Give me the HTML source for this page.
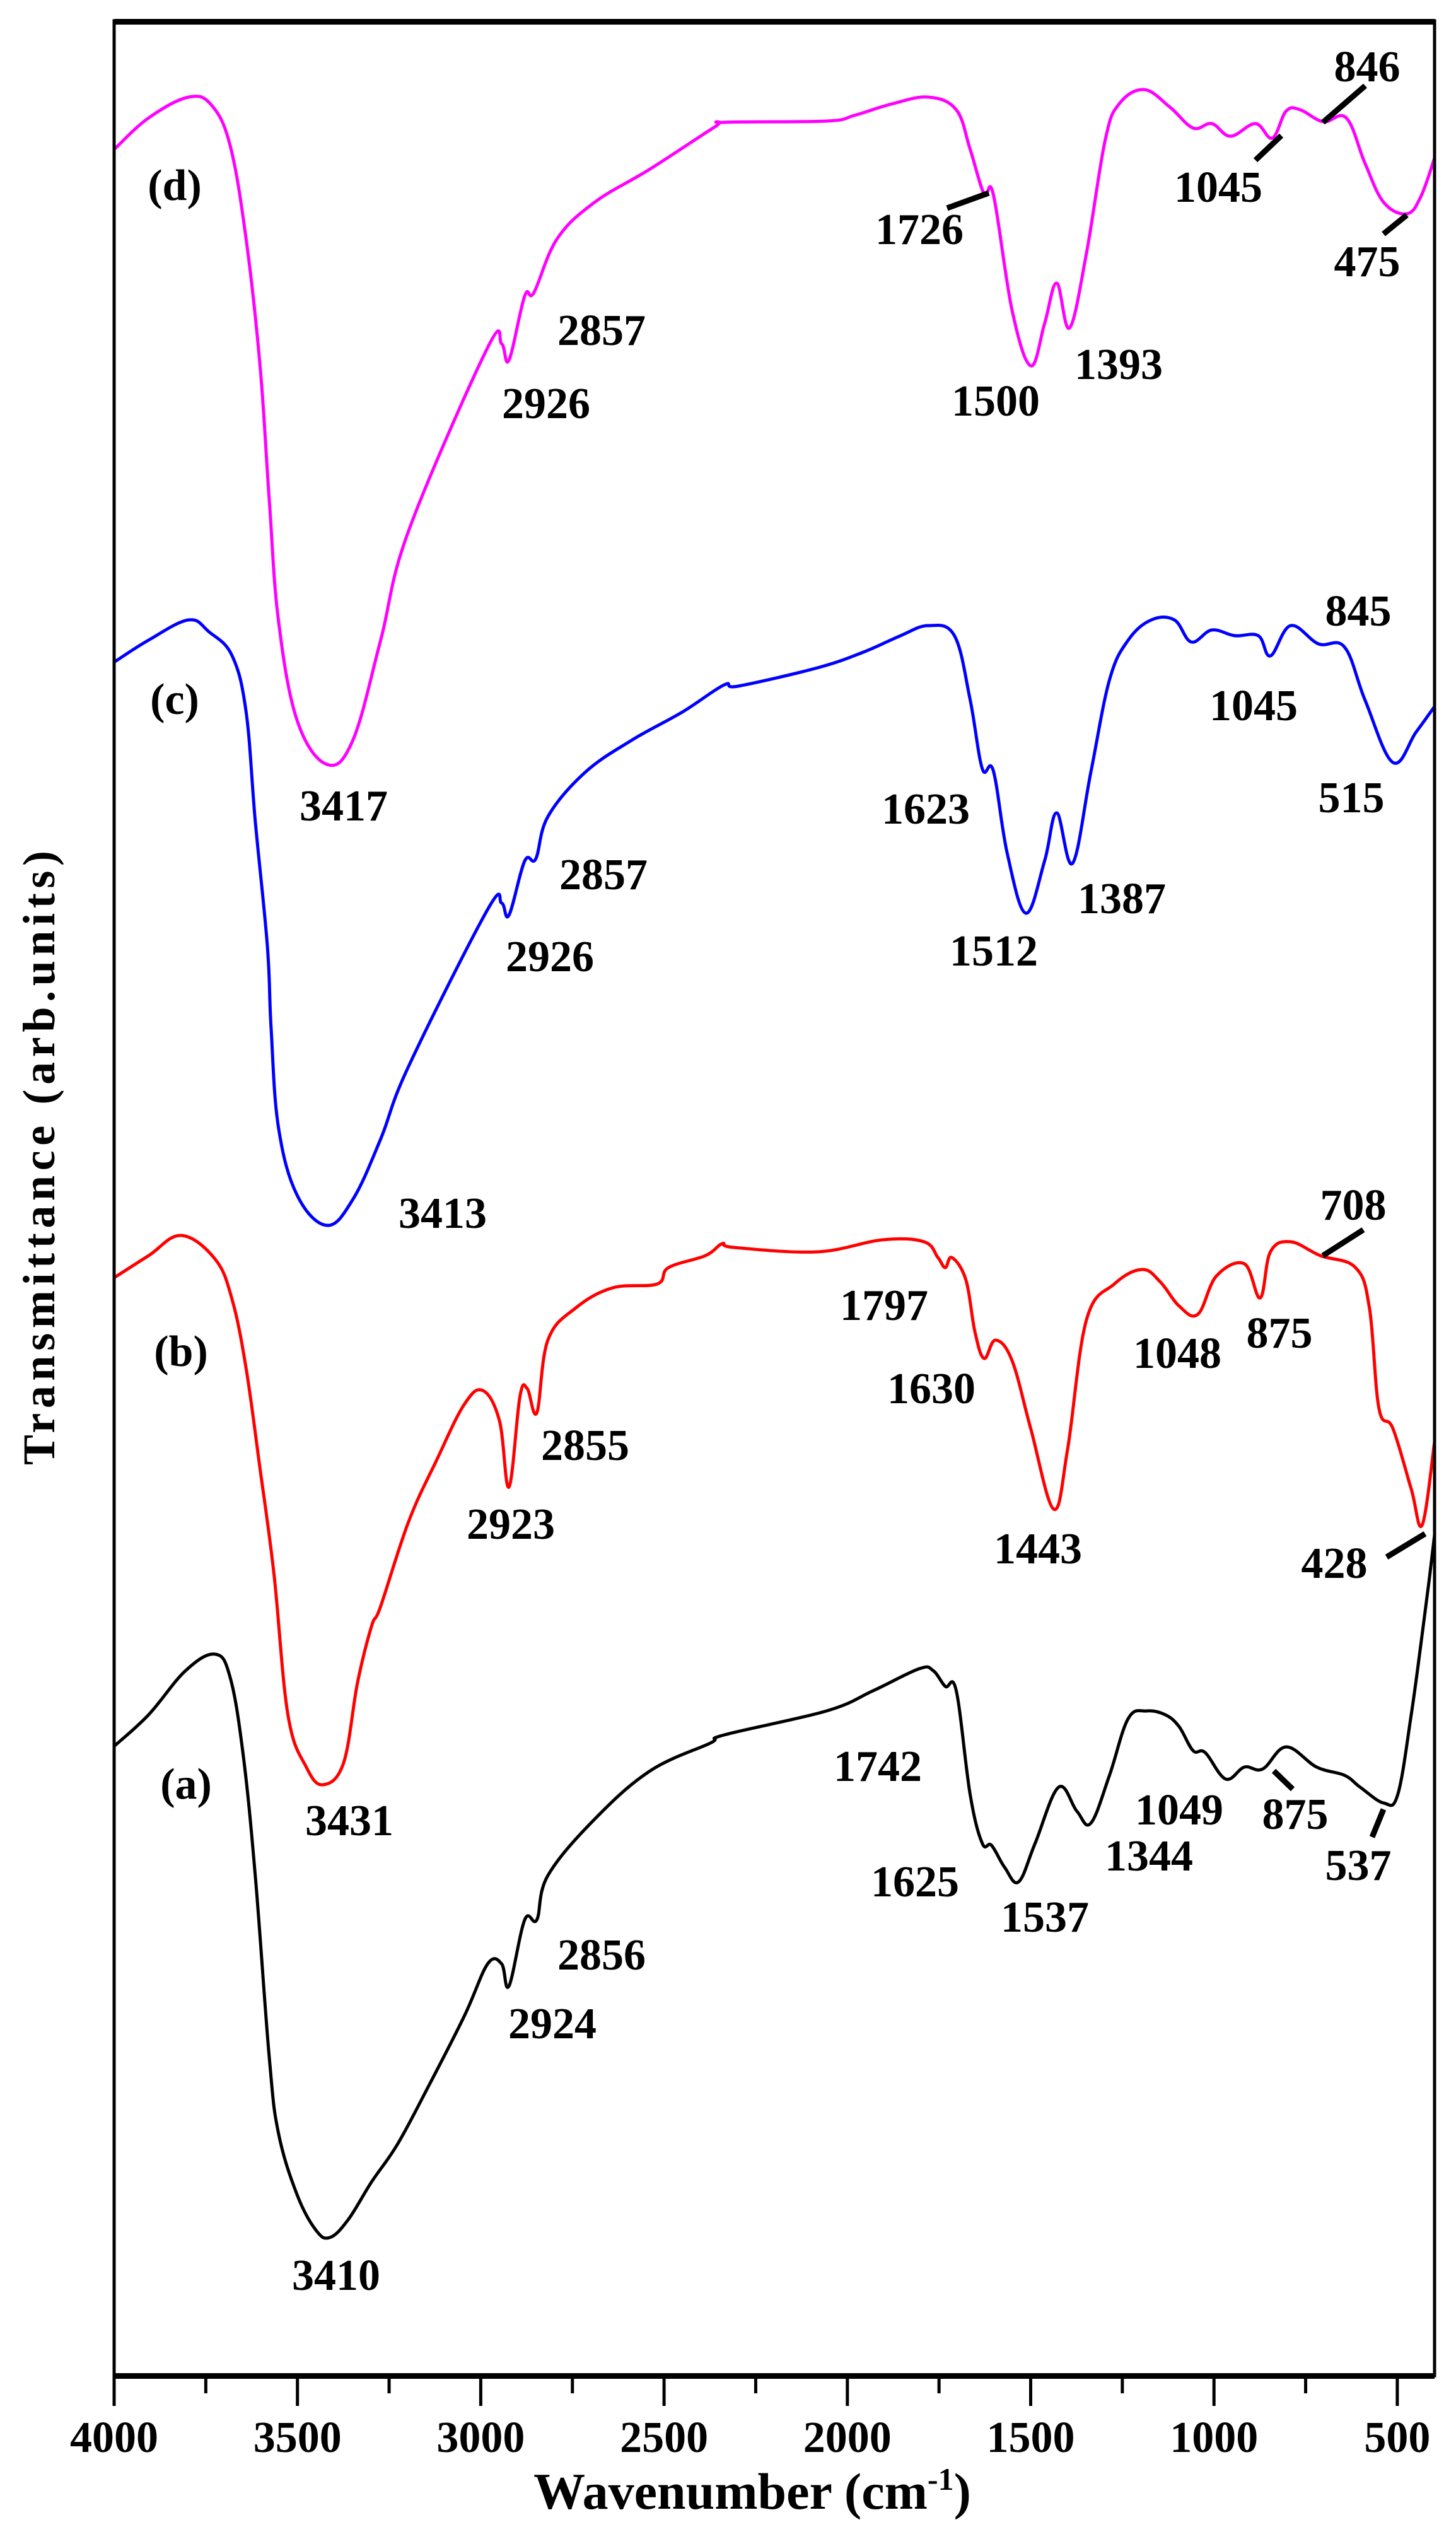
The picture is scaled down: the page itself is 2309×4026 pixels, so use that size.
<!DOCTYPE html>
<html><head><meta charset="utf-8"><style>
html,body{margin:0;padding:0;background:#fff;}
svg{display:block;}
text{font-family:"Liberation Serif",serif;font-weight:bold;fill:#000;}
</style></head>
<body>
<svg id="chart" width="2309" height="4026" viewBox="0 0 2309 4026" xmlns="http://www.w3.org/2000/svg">
<rect x="0" y="0" width="2309" height="4026" fill="#fff"/>
<g id="plot"></g>
<text x="1193" y="3978" font-size="82" text-anchor="middle">Wavenumber (cm<tspan dy="-30" font-size="50">-1</tspan><tspan dy="30">)</tspan></text>
<text transform="translate(86,1836) rotate(-90)" x="0" y="0" font-size="72" text-anchor="middle" textLength="974" lengthAdjust="spacing">Transmittance (arb.units)</text>
</svg>
<script>
// ---- data ----
const xTicksMajor = [4000, 3500, 3000, 2500, 2000, 1500, 1000, 500];
const xTicksMinor = [3750, 3250, 2750, 2250, 1750, 1250, 750];
const seriesNames = ["a", "b", "c", "d"];
const seriesColors = ["#000000", "#ff0000", "#0000ff", "#ff00ff"];
const wnA = [4000,3906,3805,3724,3683,3648,3615,3577,3552,3501,3450,3412,3362,3298,3227,3146,3045,2981,2943,2923,2880,2847,2817,2690,2538,2374,2336,2057,1930,1804,1766,1733,1703,1665,1632,1607,1571,1533,1488,1424,1374,1336,1285,1234,1184,1133,1095,1057,1024,968,917,867,803,720,644,601,537,499,462,432,411,398];
const tA = [99.8,104.8,111.8,114.4,110.6,98.4,79.3,50.6,38.5,28.7,23.1,21.9,24.7,30.7,36.7,45.5,57,65.3,65.3,61.8,72.3,72.3,79.3,88.2,95.9,100.3,101.6,105.4,108.6,112.1,111.8,109.3,108.6,92.1,84.4,84.1,80.6,78.3,84.4,93.3,89.5,87.6,95.2,104.2,105.4,104.8,102.9,99.1,98.8,94.6,96.5,96.2,99.7,96.5,95.2,93.3,90.8,92.1,104.8,117.6,127.1,133.5];
const wnB = [4000,3906,3817,3724,3678,3640,3602,3564,3526,3476,3430,3374,3336,3298,3273,3197,3121,3045,2994,2949,2923,2893,2873,2847,2817,2741,2640,2519,2488,2387,2341,2310,2082,1905,1791,1753,1733,1715,1677,1652,1627,1596,1551,1500,1437,1399,1348,1272,1196,1146,1095,1044,993,917,874,846,791,710,614,576,550,512,462,432,398];
const tB = [174.1,177.6,180.8,177,170.6,159.7,143.8,127.1,104.8,96.5,93.7,97.2,109.9,118.8,122,135.4,145.1,154,156.2,151.4,140.9,155.3,156.5,152.7,164.2,169.3,172.5,173.1,175.7,177.6,179.5,178.9,178.2,180.1,179.8,177.3,175.7,177.3,173.8,165.5,161.3,164.2,161,150.2,137.4,147,167.4,173.1,175.4,173.4,169.6,168.3,174.4,176.3,170.9,178.2,179.8,177.6,175.7,169.3,153.4,150.2,140.6,134.9,148.2];
const wnC = [4000,3906,3797,3741,3678,3640,3615,3582,3572,3552,3501,3420,3349,3273,3197,2981,2943,2923,2880,2850,2817,2716,2589,2450,2336,2298,2082,1956,1855,1779,1708,1665,1632,1602,1564,1513,1462,1429,1386,1336,1285,1234,1171,1108,1062,1006,943,879,846,791,715,644,588,512,449,398];
const tC = [271.7,275.2,278.4,276.5,272.7,263.8,246.5,226.7,213.9,198,187.2,182.4,186.5,196.1,207.6,232.5,233.5,231.6,240.2,240.5,247.2,254.2,259.3,263.8,268.1,267.9,270.8,273.3,275.9,277.5,275.9,265.7,254.8,254.5,241.4,231.9,240.2,247.8,239.8,254.2,268.9,275.2,278.4,278.4,274.9,276.8,275.9,275.9,272.7,277.5,274.6,274.1,265.7,255.8,260.6,264.7];
const wnD = [4000,3906,3797,3734,3683,3640,3602,3577,3552,3501,3420,3349,3273,3197,2981,2943,2923,2880,2855,2792,2690,2538,2361,2336,2057,1981,1880,1779,1703,1665,1627,1602,1551,1500,1462,1429,1394,1348,1297,1259,1191,1120,1057,1006,955,887,841,803,765,702,639,588,537,474,436,398];
const tD = [353,358,361.3,360,353.5,338.8,318.7,297.6,278.4,262.5,255.5,259.3,275.2,292.5,321.6,322.2,319.6,329.8,330.3,338.8,344.6,349.9,356.6,357.3,357.5,358.4,360.2,361.3,359.3,353,345.9,345.9,327.6,318.7,325.4,331.8,324.7,336.5,354.4,360.2,362.5,359.7,356.4,357.1,355.1,357.1,354.8,359.1,359.3,357.4,358,350.8,344.6,342.8,345.5,351.7];
const peakLabels = ["(d)","2857","2926","1726","1500","1393","1045","846","475",
 "(c)","3417","1623","1512","1387","1045","845","515","2857","2926",
 "(b)","3413","2855","2923","1797","1630","1443","1048","875","708","428",
 "(a)","3431","1742","1625","1537","1344","1049","875","537","2856","2924","3410"];
// annotation anchor positions (pixels, label centers)
const labelCx = [277,954,866,1458,1579,1774,1932,2168,2168,
 277,545,1468,1576,1779,1988,2154,2143,957,872,
 287,702,928,810,1402,1477,1646,1867,2029,2146,2116,
 295,554,1392,1451,1657,1822,1870,2054,2154,954,876,533];
const labelCy = [292,522,638,362,634,576,295,104,413,
 1107,1276,1281,1506,1423,1117,967,1263,1385,1515,
 2141,1922,2290,2415,2068,2200,2454,2144,2112,1909,2477,
 2827,2885,2799,2982,3038,2941,2868,2875,2956,3098,3207,3606];
// ---- scales ----
const X0 = 181, PX_PER = 290.7 / 500;
function xs(w) { return X0 + (4000 - w) * PX_PER; }
const YB = 3767, YT = 33, TMAX = 373.4;
function ys(t) { return YB - t / TMAX * (YB - YT); }
const NS = "http://www.w3.org/2000/svg";
const plot = document.getElementById('plot');
function mk(tag, attrs) { const e = document.createElementNS(NS, tag); for (const k in attrs) e.setAttribute(k, attrs[k]); plot.appendChild(e); return e; }
function smoothPath(pts) {
  let d = 'M' + pts[0][0].toFixed(1) + ',' + pts[0][1].toFixed(1);
  const k = 0.18;
  for (let i = 0; i < pts.length - 1; i++) {
    const p0 = pts[i - 1] || pts[i], p1 = pts[i], p2 = pts[i + 1], p3 = pts[i + 2] || p2;
    const c1x = p1[0] + (p2[0] - p0[0]) * k, c1y = p1[1] + (p2[1] - p0[1]) * k;
    const c2x = p2[0] - (p3[0] - p1[0]) * k, c2y = p2[1] - (p3[1] - p1[1]) * k;
    d += 'C' + c1x.toFixed(1) + ',' + c1y.toFixed(1) + ' ' + c2x.toFixed(1) + ',' + c2y.toFixed(1) + ' ' + p2[0].toFixed(1) + ',' + p2[1].toFixed(1);
  }
  return d;
}
// series
const allWn = [wnA, wnB, wnC, wnD];
const allT = [tA, tB, tC, tD];
for (let s = 0; s < 4; s++) {
  const pts = allWn[s].map((w, i) => [xs(w), ys(allT[s][i])]);
  const p = mk('path', {d: smoothPath(pts), fill: 'none', stroke: seriesColors[s], 'stroke-width': 5, 'stroke-linejoin': 'round'});
  
  
}
// peak labels
for (let i = 0; i < peakLabels.length; i++) {
  const t = mk('text', {x: labelCx[i], y: labelCy[i] + 25, 'font-size': 70, 'text-anchor': 'middle'});
  t.textContent = peakLabels[i];
  
  
}
// leader lines
const leaders = [[1502,330,1568,306],[1991,254,2032,215],[2165,136,2098,194],[2194,371,2231,341],[2098,1991,2162,1950],[2199,2469,2260,2432],[2020,2808,2050,2837],[2194,2869,2176,2913]];
for (const l of leaders) {
  const e = mk('line', {x1: l[0], y1: l[1], x2: l[2], y2: l[3], stroke: '#000', 'stroke-width': 9});
  
  
}
// frame
const fr = mk('rect', {x: 181, y: 33, width: 2094, height: 3734, fill: 'none', stroke: '#000', 'stroke-width': 5});


const topBar = mk('rect', {x: 181, y: 30, width: 2094, height: 9, fill: '#000'});


const xAxis = mk('rect', {x: 181, y: 3763, width: 2094, height: 9, fill: '#000'});


// ticks
for (const w of xTicksMajor) {
  const tk = mk('line', {x1: xs(w), y1: 3767, x2: xs(w), y2: 3815, stroke: '#000', 'stroke-width': 5});
  
  
  const lb = mk('text', {x: xs(w), y: 3888, 'font-size': 70, 'text-anchor': 'middle'});
  lb.textContent = w;
  
  
}
for (const w of xTicksMinor) {
  const tk = mk('line', {x1: xs(w), y1: 3767, x2: xs(w), y2: 3795, stroke: '#000', 'stroke-width': 5});
  
  
}
</script>
</body></html>
